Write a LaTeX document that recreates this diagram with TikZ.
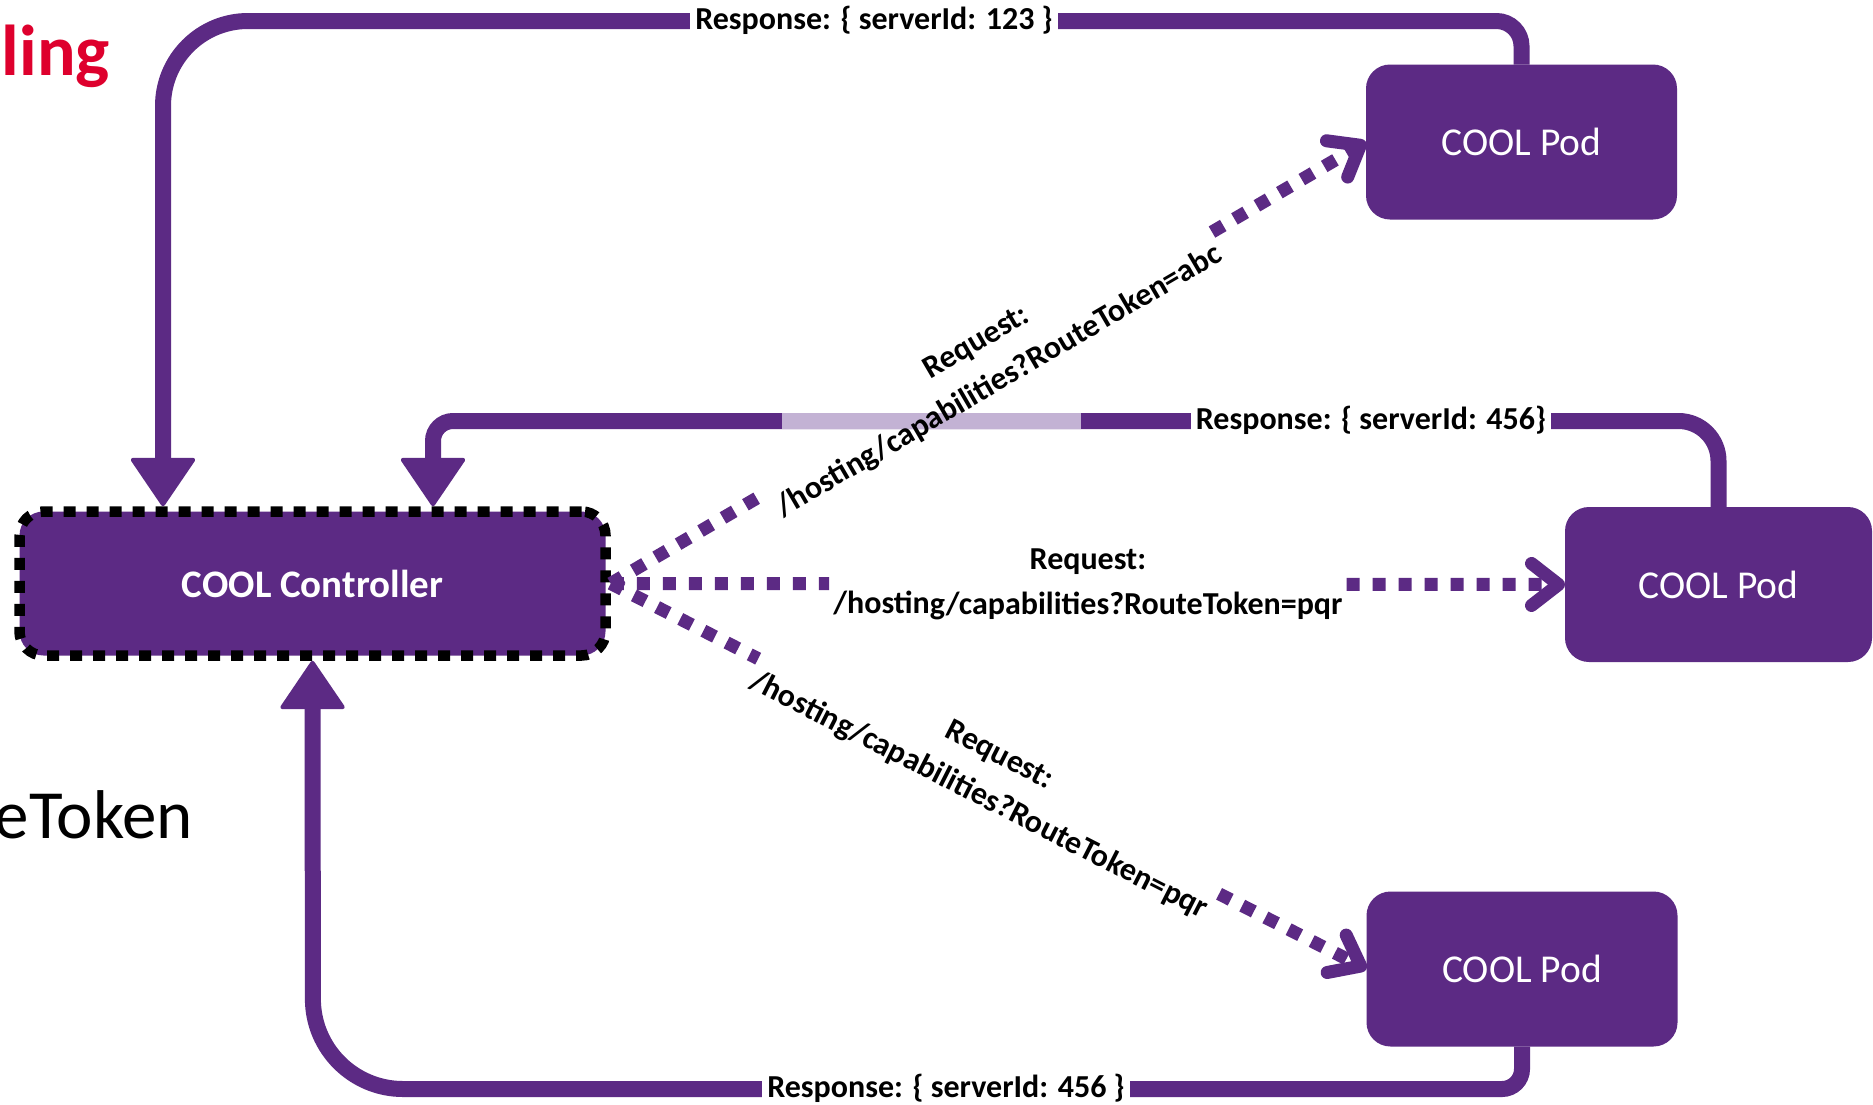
\documentclass[tikz,border=0pt]{standalone}
\usepackage{fontspec}
\setmainfont{Carlito}
\usetikzlibrary{arrows.meta,calc}
\definecolor{cpurple}{HTML}{5C2A84}
\definecolor{clight}{HTML}{C3B2D4}
\definecolor{cred}{HTML}{DE002D}
\tikzset{
  pod/.style={fill=cpurple, rounded corners=24pt, minimum width=311pt, minimum height=155pt, inner sep=0pt, outer sep=0pt, text=white, font=\fontsize{39.5}{46}\selectfont},
  ctrlbox/.style={fill=cpurple, draw=black, line width=10.5pt, dash pattern=on 12pt off 11pt, rounded corners=24pt, minimum width=586pt, minimum height=144pt, text=white, font=\fontsize{39}{46}\selectfont\bfseries},
  resp/.style={draw=cpurple, line width=16pt, -{Triangle[width=67pt,length=50pt,round,line width=4pt]}},
  lightseg/.style={draw=clight, line width=16pt},
  req/.style={draw=cpurple, line width=13pt, dash pattern=on 13pt off 13pt, -{Straight Barb[length=27pt,width=42pt,round]}},
  reqlab/.style={sloped, inner xsep=4pt, inner ysep=0pt, align=center, font=\fontsize{32}{45}\selectfont\bfseries},
  resplab/.style={fill=white, anchor=base, inner xsep=5pt, inner ysep=2pt, font=\fontsize{32}{40}\selectfont\bfseries},
  cuttext/.style={anchor=base east, inner sep=0pt},
}
\begin{document}
\begin{tikzpicture}[x=1pt,y=-1pt]
\fill[white] (0,0) rectangle (1873,1104);
\useasboundingbox (0,0) rectangle (1873,1104);

% background slide text (cut off)
\node[cuttext, text=cred, font=\fontsize{72}{80}\selectfont\bfseries] (t1) at (110,75) {ling};
\node[cuttext, font=\fontsize{69}{80}\selectfont] (t2) at (193,838) {eToken};

% nodes
\node[ctrlbox] (ctrl) at (312.5,583.5) {COOL Controller};
\node[pod] (pod1) at (1521.5,142) {COOL Pod};
\node[pod, minimum width=307pt] (pod2) at (1718.5,584.5) {COOL Pod};
\node[pod] (pod3) at (1522,969) {COOL Pod};

% responses
\draw[resp] (pod1.north) [rounded corners=25pt] -- (pod1.north |- 0,21) [rounded corners=85pt] -- (163,21) -- (ctrl.north -| 163,0);
\draw[resp] (pod2.north) [rounded corners=40pt] -- (pod2.north |- 0,421) [rounded corners=20pt] -- (433,421) -- (ctrl.north -| 433,0);
\draw[resp] (pod3.south) [rounded corners=20pt] -- (pod3.south |- 0,1089) [rounded corners=90pt] -- (313,1089) -- (ctrl.south);
\coordinate (ls1) at (782,421);
\coordinate (ls2) at (1081,421);
\draw[lightseg] (ls1) -- (ls2);

\node[resplab] (r1) at (874,29) {Response: \{ serverId: 123 \}};
\node[resplab] (r2) at (1371,429) {Response: \{ serverId: 456\}};
\node[resplab] (r3) at (946,1097) {Response: \{ serverId: 456 \}};

% requests
\path (ctrl.east) -- (pod1.west) node[reqlab, midway] (q1) {Request:\\/hosting/capabilities?RouteToken=abc};
\path (ctrl.east) -- (pod2.west) node[reqlab, midway] (q2) {Request:\\/hosting/capabilities?RouteToken=pqr};
\path (ctrl.east) -- (pod3.west) node[reqlab, midway] (q3) {Request:\\/hosting/capabilities?RouteToken=pqr};
\draw[req] (ctrl.east) -- (q1.west) (q1.east) -- (pod1.west);
\draw[req] (ctrl.east) -- (q2.west) (q2.east) -- (pod2.west);
\draw[req] (ctrl.east) -- (q3.west) (q3.east) -- (pod3.west);
\end{tikzpicture}
\end{document}
